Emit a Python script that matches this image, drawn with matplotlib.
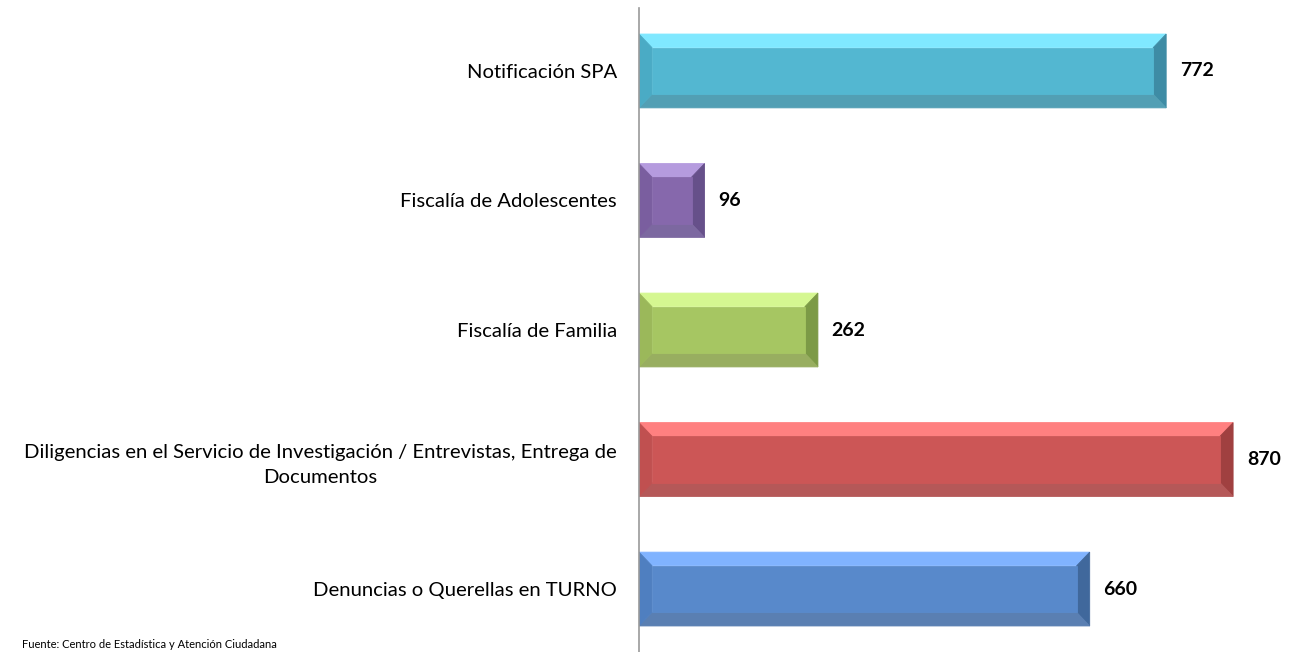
import matplotlib
matplotlib.use("Agg")
import matplotlib.pyplot as plt
from matplotlib.patches import Polygon

plt.rcParams["font.family"] = ["Lato", "DejaVu Sans"]

categories = [
    "Notificación SPA",
    "Fiscalía de Adolescentes",
    "Fiscalía de Familia",
    "Diligencias en el Servicio de Investigación / Entrevistas, Entrega de\nDocumentos",
    "Denuncias o Querellas en TURNO",
]
values = [772, 96, 262, 870, 660]

# (front, top, left, right, bottom) face colours per bar
faces = [
    ("#53B7D1", "#80E8FF", "#4AABC5", "#3E8CA5", "#529FB4"),
    ("#8668AC", "#B59BDE", "#7A5E9F", "#66508A", "#7C68A0"),
    ("#A6C662", "#D5F791", "#9BB85A", "#7C9A46", "#98AE60"),
    ("#CC5656", "#FF8080", "#C05050", "#A04040", "#B55858"),
    ("#5889CB", "#80B3FF", "#4F7FC0", "#40689C", "#5A7FB2"),
]

fig = plt.figure(figsize=(12.9, 6.52), dpi=100)
ax = fig.add_axes([639 / 1290, 0, (1285 - 639) / 1290, 644 / 652])

XMAX = 946
h = 0.57          # bar thickness in category units
bx = 19           # bevel width in data units
by = 0.105        # bevel height in category units


def face(pts, col):
    ax.add_patch(Polygon(pts, closed=True, fc=col, ec=col, lw=0.6))


for i, (v, c) in enumerate(zip(values, faces)):
    front, top, left, right, bottom = c
    y0, y1 = i - h / 2, i + h / 2   # y axis inverted: y0 is visually top
    x0, x1 = 0, v
    b = min(bx, v / 4)
    outer = [(x0, y0), (x1, y0), (x1, y1), (x0, y1)]
    inner = [(x0 + b, y0 + by), (x1 - b, y0 + by), (x1 - b, y1 - by), (x0 + b, y1 - by)]
    face([outer[0], outer[1], inner[1], inner[0]], top)
    face([outer[1], outer[2], inner[2], inner[1]], right)
    face([outer[2], outer[3], inner[3], inner[2]], bottom)
    face([outer[3], outer[0], inner[0], inner[3]], left)
    face(inner, front)
    ax.text(v + 20, i, f"{v}", va="center", ha="left", fontsize=14, fontweight="bold")

ax.set_xlim(0, XMAX)
ax.set_ylim(len(values) - 0.514, -0.486)
ax.set_yticks(range(len(values)))
ax.set_yticklabels(categories, fontsize=14.6, linespacing=1.55)
for t in ax.get_yticklabels():
    t.set_multialignment("center")
ax.tick_params(axis="y", length=0, pad=16)
ax.set_xticks([])
for s in ["top", "right", "bottom"]:
    ax.spines[s].set_visible(False)
ax.spines["left"].set_color("#9A9A9A")
ax.spines["left"].set_linewidth(1.2)

fig.text(22 / 1290, 0.003, "Fuente: Centro de Estadística y Atención Ciudadana",
         fontsize=8, ha="left", va="bottom")

fig.savefig("out.png", dpi=100)
